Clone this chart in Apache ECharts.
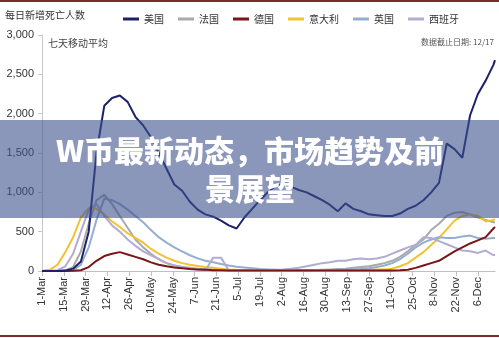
<!DOCTYPE html>
<html><head><meta charset="utf-8">
<script src="https://cdn.jsdelivr.net/npm/echarts@6/dist/echarts.min.js"></script>
<style>html,body{margin:0;padding:0;background:#fff}#c{width:499px;height:338px}</style>
</head><body><div id="c"></div>
<script>
// day index from 1-Mar
const days = [0,5,10,15,20,25,30,35,40,45,50,55,60,65,70,75,80,85,90,95,100,105,110,115,120,125,130,135,140,145,150,155,160,165,170,175,180,185,190,195,200,205,210,215,220,225,230,235,240,245,250,255,260,265,270,275,280,285,290,291];
const xLabels = ['1-Mar','15-Mar','29-Mar','12-Apr','26-Apr','10-May','24-May','7-Jun','21-Jun','5-Jul','19-Jul','2-Aug','16-Aug','30-Aug','13-Sep','27-Sep','11-Oct','25-Oct','8-Nov','22-Nov','6-Dec'];
const seriesNames = ['美国','法国','德国','意大利','英国','西班牙'];
const us = [0,0,1,5,30,120,500,1500,2100,2200,2230,2150,1960,1850,1700,1500,1300,1100,1020,880,780,720,690,640,580,540,680,790,900,1000,1080,1100,1070,1030,1000,950,900,840,760,860,790,760,720,710,700,700,730,790,830,900,1000,1120,1620,1550,1440,1980,2250,2420,2620,2680];
const france = [0,0,2,10,50,250,600,900,970,850,700,550,400,300,220,150,100,70,50,40,30,25,20,15,12,10,10,10,10,10,10,10,10,10,10,10,15,20,25,30,40,50,60,80,100,130,180,250,330,400,520,600,700,740,750,720,680,650,620,620];
const germany = [0,0,0,1,3,10,50,130,190,220,240,210,180,150,110,80,60,45,35,25,20,15,10,8,6,5,5,5,5,5,5,5,5,5,5,5,5,5,5,5,5,5,5,5,5,6,8,15,40,70,100,130,190,250,300,350,390,430,540,560];
const italy = [3,15,80,240,430,680,800,790,720,630,560,480,420,360,280,220,170,130,100,80,65,50,40,30,20,15,12,10,8,8,8,8,8,8,10,10,10,10,12,12,14,15,16,18,20,30,60,100,170,240,330,420,530,640,700,720,700,630,650,660];
const uk = [0,0,0,2,10,80,300,650,920,900,850,780,700,620,520,430,360,300,250,200,160,130,110,90,70,55,45,35,25,20,15,12,10,10,10,10,10,10,12,15,20,25,35,50,70,100,150,220,300,360,400,430,420,420,440,450,420,410,420,420];
const spain = [0,2,10,60,220,500,780,850,700,580,500,400,320,250,200,150,100,70,50,30,20,10,170,170,5,5,5,5,5,10,15,20,30,40,60,80,100,110,130,130,150,160,150,160,180,220,260,300,330,430,420,380,340,300,260,250,230,260,200,210];
const yTicks = [0,500,1000,1500,2000,2500,3000];

const colors = ['#1c216c','#a9a9a9','#7a1518','#f2c230','#94aed0','#b2abd3'];
const values = [us,france,germany,italy,uk,spain];
const pair = arr => days.map((d,i)=>[d,arr[i]]);
const order = [1,3,4,5,2,0];
const series = order.map(k=>({
  name: seriesNames[k], type:'line', data: pair(values[k]), showSymbol:false, symbol:'none',
  lineStyle:{color:colors[k], width: 2}, itemStyle:{color:colors[k]}, z: k===0?5:3, silent:true
}));

const chart = echarts.init(document.getElementById('c'), null, {renderer:'canvas'});
chart.setOption({
  animation:false,
  backgroundColor:'#ffffff',
  grid:{left:42, right:4, top:35, bottom:67},
  legend:{
    data: seriesNames, left:118, top:9, itemWidth:16, itemHeight:3, icon:'rect', itemGap:14,
    textStyle:{fontFamily:'Noto Sans CJK SC', fontSize:10, color:'#333'}
  },
  xAxis:{
    type:'value', min:0, max:291, interval:14,
    splitLine:{show:false},
    axisLine:{lineStyle:{color:'#bfbfbf'}},
    axisTick:{show:true, length:5, lineStyle:{color:'#bfbfbf'}},
    axisLabel:{rotate:90, fontSize:11, color:'#333', fontFamily:'Liberation Sans', margin:6, showMaxLabel:false,
      formatter: v => (v%14===0 && xLabels[v/14]) ? xLabels[v/14] : ''}
  },
  yAxis:{
    type:'value', min:yTicks[0], max:yTicks[yTicks.length-1], interval:500,
    splitLine:{show:false},
    axisLine:{show:true, lineStyle:{color:'#c8c8c8'}},
    axisTick:{show:true, length:4, lineStyle:{color:'#c8c8c8'}},
    axisLabel:{fontSize:11, color:'#333', fontFamily:'Liberation Sans', margin:8,
      formatter: v => v.toLocaleString('en-US')}
  },
  series: series,
  graphic:[
    {type:'rect', shape:{x:0,y:0,width:499,height:2}, style:{fill:'#7b2c2c'}, z:100},
    {type:'rect', shape:{x:0,y:335,width:499,height:2}, style:{fill:'#7b2c2c'}, z:100},
    {type:'text', left:5, top:10, style:{text:'每日新增死亡人数', fontSize:10, fill:'#333', fontFamily:'Noto Sans CJK SC'}, z:100},
    {type:'text', left:48, top:38, style:{text:'七天移动平均', fontSize:10, fill:'#444', fontFamily:'Noto Sans CJK SC'}, z:100},
    {type:'text', right:5, top:38, style:{text:'数据截止日期: 12/17', fontSize:8, fill:'#555', fontFamily:'Noto Sans CJK SC'}, z:100},
    {type:'rect', shape:{x:0,y:120,width:499,height:98}, style:{fill:'rgba(60,80,140,0.6)'}, z:200},
    {type:'text', x:250, y:151, style:{text:'W币最新动态，市场趋势及前', fontSize:30, fontWeight:900, fill:'#ffffff', fontFamily:'Noto Sans CJK SC', textAlign:'center', textVerticalAlign:'middle'}, z:201},
    {type:'text', x:250, y:189, style:{text:'景展望', fontSize:30, fontWeight:900, fill:'#ffffff', fontFamily:'Noto Sans CJK SC', textAlign:'center', textVerticalAlign:'middle'}, z:201}
  ]
});
</script></body></html>
